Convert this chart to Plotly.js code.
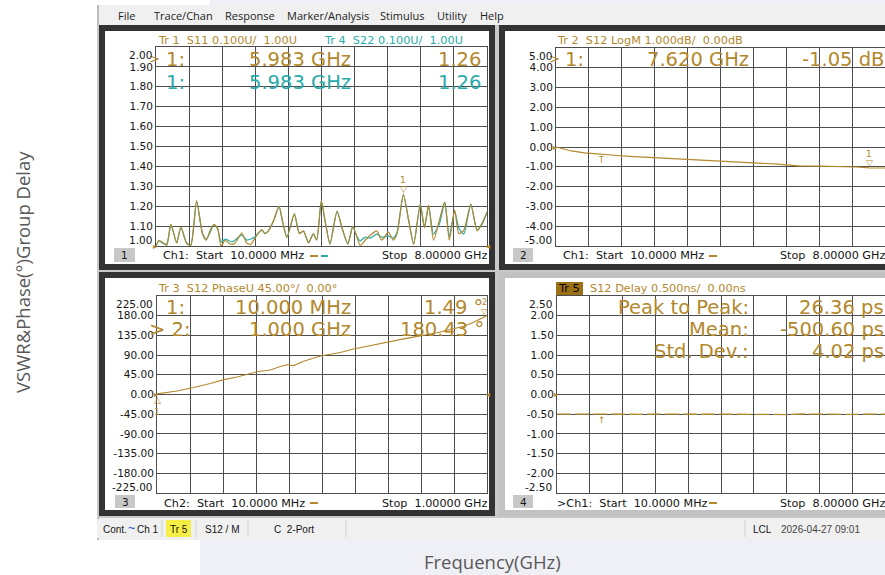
<!DOCTYPE html>
<html><head><meta charset="utf-8">
<script src="https://cdn.plot.ly/plotly-3.0.1.min.js"></script>
<style>html,body{margin:0;padding:0;background:#fff;overflow:hidden}#chart{width:885px;height:575px}</style>
</head><body><div id="chart"></div>
<script>
// ---------------- DATA ----------------
// Trace 1 / Trace 4 : VSWR, Ch1 10 MHz .. 8 GHz
const vswrFreq = [0.01,0.08,0.19,0.27,0.37,0.51,0.61,0.75,0.85,0.99,1.13,1.22,1.32,1.41,1.50,1.58,1.68,1.76,1.84,1.92,2.08,2.20,2.30,2.39,2.56,2.64,2.72,2.85,2.98,3.06,3.17,3.35,3.47,3.57,3.69,3.81,3.89,4.00,4.09,4.21,4.38,4.50,4.64,4.76,4.86,4.94,5.06,5.18,5.34,5.46,5.62,5.74,5.83,5.98,6.11,6.23,6.39,6.49,6.59,6.71,6.85,6.98,7.09,7.22,7.32,7.44,7.61,7.76,7.88,8.00];
const s11Vswr = [1.000,1.029,1.015,1.003,1.109,1.015,1.096,1.012,1.003,1.228,1.062,1.029,1.079,1.109,1.087,1.000,1.029,1.015,1.008,1.015,1.065,1.015,1.008,1.037,1.082,1.062,1.076,1.129,1.200,1.129,1.042,1.163,1.062,1.076,1.015,1.062,1.029,1.227,1.129,1.008,1.176,1.092,1.008,1.099,1.045,1.003,1.029,1.054,1.076,1.029,1.070,1.029,1.062,1.260,1.129,1.008,1.211,1.092,1.205,1.029,1.129,1.222,1.029,1.180,1.062,1.079,1.211,1.076,1.114,1.171];
const s22Vswr = [1.000,1.025,1.012,1.010,1.105,1.018,1.094,1.015,1.005,1.225,1.065,1.032,1.070,1.108,1.085,1.020,1.035,1.028,1.020,1.030,1.055,1.030,1.035,1.045,1.080,1.064,1.075,1.127,1.198,1.127,1.045,1.160,1.065,1.074,1.018,1.060,1.032,1.224,1.127,1.012,1.174,1.090,1.012,1.097,1.048,1.025,1.045,1.040,1.060,1.045,1.050,1.040,1.070,1.258,1.127,1.012,1.209,1.095,1.200,1.060,1.110,1.218,1.050,1.176,1.090,1.060,1.208,1.080,1.110,1.168];
// Trace 2 : S12 LogM (dB)
const logmFreq = [0.01,0.2,0.38,0.7,1.1,1.5,1.8,2.4,3.0,3.6,4.2,4.8,5.4,5.9,6.4,6.9,7.3,7.62,8.0];
const s12LogM = [0.00,-0.12,-0.20,-0.30,-0.38,-0.43,-0.47,-0.54,-0.62,-0.67,-0.75,-0.80,-0.86,-0.95,-0.97,-0.98,-1.01,-1.05,-1.06];
// Trace 3 : S12 unwrapped phase (deg), Ch2 10 MHz .. 1 GHz
const phaseFreq = [0.01,0.07,0.12,0.17,0.21,0.25,0.31,0.35,0.38,0.40,0.42,0.45,0.50,0.53,0.56,0.60,0.65,0.70,0.75,0.80,0.85,0.90,0.93,0.96,1.00];
const s12Phase = [1.49,8,16,25,34,40,52,56,64,68,66,76,88,92,96,104,112,120,127,134,141,150,156,165,180.43];
// Trace 5 : S12 group delay (ns)
const delayFreq = [0.01,0.4,0.8,1.2,1.6,2.0,2.4,2.8,3.2,3.6,4.0,4.4,4.8,5.2,5.6,6.0,6.4,6.8,7.2,7.6,8.0];
const s12Delay = [-0.497,-0.501,-0.499,-0.503,-0.498,-0.502,-0.500,-0.505,-0.496,-0.501,-0.499,-0.504,-0.497,-0.502,-0.509,-0.495,-0.503,-0.500,-0.506,-0.498,-0.501];
// markers
const vswrMkFreq = [5.983], vswrMkVal = [1.26];
const logmMkFreq = [7.62], logmMkVal = [-1.05];
const phaseMkFreq = [0.01, 1.0], phaseMkVal = [1.49, 180.43];
const refMkFreq = [1.1];
// tick labels
const vswrTicks = [1.0,1.1,1.2,1.3,1.4,1.5,1.6,1.7,1.8,1.9,2.0];
const vswrLabels = ['1.00','1.10','1.20','1.30','1.40','1.50','1.60','1.70','1.80','1.90','2.00'];
const logmTicks = [-5,-4,-3,-2,-1,0,1,2,3,4,5];
const logmLabels = ['-5.00','-4.00','-3.00','-2.00','-1.00','0.00','1.00','2.00','3.00','4.00','5.00'];
const phaseTicks = [-225,-180,-135,-90,-45,0,45,90,135,180,225];
const phaseLabels = ['-225.00','-180.00','-135.00','-90.00','-45.00','0.00','45.00','90.00','135.00','180.00','225.00'];
const delayTicks = [-2.5,-2,-1.5,-1,-0.5,0,0.5,1,1.5,2,2.5];
const delayLabels = ['-2.50','-2.00','-1.50','-1.00','-0.50','0.00','0.50','1.00','1.50','2.00','2.50'];
const menuItems = ['File','Trace/Chan','Response','Marker/Analysis','Stimulus','Utility','Help'];

// ---------------- STYLE / LAYOUT ----------------
const W = 885, H = 575;
const X = p => p / W, Y = p => 1 - p / H;
const S = s => String(s).replace(/ /g, '\u00a0');
const GOLD = '#b3882c', TEAL = '#27abab', GRID = '#4d4d4d', INK = '#151515';
const VNA = 'DejaVu Sans, Liberation Sans, Arial, sans-serif';
const UI = 'Open Sans, Noto Sans, sans-serif';
const NARROW = 'Liberation Sans, Arial, sans-serif';

const ann = [], shp = [];
function T(x, y, text, o = {}) {
  ann.push({xref:'paper', yref:'paper', x:X(x), y:Y(y), text:S(text), showarrow:false,
    xanchor:o.a || 'left', yanchor:'middle', borderpad:0, borderwidth:0, textangle:o.r || 0,
    font:{family:o.f || VNA, size:o.s || 10, color:o.c || INK}});
}
function R(x0, y0, x1, y1, fill, layer) {
  shp.push({type:'rect', xref:'paper', yref:'paper', x0:X(x0), x1:X(x1), y0:Y(y1), y1:Y(y0),
    fillcolor:fill, line:{width:0}, layer:layer || 'below'});
}
function L(x0, y0, x1, y1, color, w, layer) {
  shp.push({type:'line', xref:'paper', yref:'paper', x0:X(x0), x1:X(x1), y0:Y(y0), y1:Y(y1),
    line:{color:color, width:w || 1}, layer:layer || 'below'});
}
function D(xr, yr, x, y, text, o = {}) {
  ann.push({xref:xr, yref:yr, x:x, y:y, text:S(text), showarrow:false,
    xanchor:o.a || 'center', yanchor:o.ya || 'middle', xshift:o.xs || 0, yshift:o.ys || 0,
    borderpad:0, borderwidth:0, font:{family:o.f || VNA, size:o.s || 10, color:o.c || INK}});
}

// background / window chrome
R(200, 538, 885, 575, '#eef0f5');
R(210, 0, 885, 6, '#eef0f5');
R(97, 5, 885, 540, '#f0f0f0');
L(98, 5, 98, 540, '#9a9a9a', 1.2);
R(97, 25, 885, 518, '#c9c9c9');
// panel frames
R(99, 25, 495, 270, '#333333'); R(105, 31, 489, 264, '#ffffff');
R(499, 25, 885, 270, '#333333'); R(505, 31, 885, 264, '#ffffff');
R(99, 272, 495, 516, '#333333'); R(105, 278, 489, 510, '#ffffff');
R(499, 272, 885, 516, '#c2c2c2'); R(505, 278, 885, 510, '#ffffff');
// channel number boxes
R(114, 248, 135, 262, '#c8c8c8'); R(513, 248, 533, 262, '#c8c8c8');
R(115, 495, 135, 508, '#c8c8c8'); R(513, 495, 533, 508, '#c8c8c8');
// Tr 5 badge
R(556, 282, 583, 295, '#9c7014');
// trace legend dashes on the channel rows
L(310, 256, 318, 256, GOLD, 2, 'above'); L(321, 256, 328, 256, TEAL, 2, 'above');
L(709, 256, 717, 256, GOLD, 2, 'above');
L(310, 503, 318, 503, GOLD, 2, 'above');
L(709, 503, 717, 503, GOLD, 2, 'above');
// status bar
R(97, 519, 885, 538, '#f0f0f0');
R(166, 520, 191, 537, '#f6ee45');
[162, 196, 248, 346, 745].forEach(x => L(x, 520, x, 537, '#cfcfcf', 1));

// menu
const menuX = [118, 154, 225, 287, 380, 437, 480];
menuItems.forEach((m, i) => T(menuX[i], 15.5, m, {f:UI, s:11, c:'#1c1c1c'}));

// outer titles
T(22, 272, 'VSWR&Phase(°)Group Delay', {f:UI, s:18.5, c:'#595959', r:-90, a:'center'});
T(492, 561, 'Frequency(GHz)', {f:UI, s:18.5, c:'#595959', a:'center'});

const HS = 11.3, BS = 11.2, MS = 19.5;
// ---- Panel 1 texts
T(158, 40.5, 'Tr 1  S11 0.100U/  1.00U', {s:HS, c:GOLD});
T(324, 40.5, 'Tr 4  S22 0.100U/  1.00U', {s:HS, c:TEAL});
T(149, 59, '>', {s:13, c:GOLD});
T(166, 60, '1:', {s:MS, c:GOLD}); T(351, 60, '5.983 GHz', {s:MS, c:GOLD, a:'right'}); T(481, 60, '1.26', {s:MS, c:GOLD, a:'right'});
T(166, 82, '1:', {s:MS, c:TEAL}); T(351, 82, '5.983 GHz', {s:MS, c:TEAL, a:'right'}); T(481, 82, '1.26', {s:MS, c:TEAL, a:'right'});
T(124.5, 255, '1', {s:10.5, a:'center'});
T(163, 256, 'Ch1:  Start  10.0000 MHz', {s:BS});
T(487, 256, 'Stop  8.00000 GHz', {s:BS, a:'right'});
// ---- Panel 2 texts
T(557, 40.5, 'Tr 2  S12 LogM 1.000dB/  0.00dB', {s:HS, c:GOLD});
T(549, 59, '>', {s:13, c:GOLD});
T(565, 60, '1:', {s:MS, c:GOLD}); T(749, 60, '7.620 GHz', {s:MS, c:GOLD, a:'right'}); T(884, 60, '-1.05 dB', {s:MS, c:GOLD, a:'right'});
T(523, 255, '2', {s:10.5, a:'center'});
T(563, 256, 'Ch1:  Start  10.0000 MHz', {s:BS});
T(885, 256, 'Stop  8.00000 GHz', {s:BS, a:'right'});
// ---- Panel 3 texts
T(158, 288, 'Tr 3  S12 PhaseU 45.00°/  0.00°', {s:HS, c:GOLD});
T(166, 307, '1:', {s:MS, c:GOLD}); T(351, 307, '10.000 MHz', {s:MS, c:GOLD, a:'right'}); T(483, 307, '1.49 °', {s:MS, c:GOLD, a:'right'});
T(149, 329, '> 2:', {s:MS, c:GOLD}); T(351, 329, '1.000 GHz', {s:MS, c:GOLD, a:'right'}); T(484, 329, '180.43 °', {s:MS, c:GOLD, a:'right'});
T(125, 502, '3', {s:10.5, a:'center'});
T(164, 503, 'Ch2:  Start  10.0000 MHz', {s:BS});
T(487, 503, 'Stop  1.00000 GHz', {s:BS, a:'right'});
// ---- Panel 4 texts
T(558, 288.5, 'Tr 5', {s:HS, c:'#000'});
T(590, 288.5, 'S12 Delay 0.500ns/  0.00ns', {s:HS, c:GOLD});
T(749, 308, 'Peak to Peak:', {s:MS, c:GOLD, a:'right'}); T(884, 308, '26.36 ps', {s:MS, c:GOLD, a:'right'});
T(749, 329.5, 'Mean:', {s:MS, c:GOLD, a:'right'}); T(884, 329.5, '-500.60 ps', {s:MS, c:GOLD, a:'right'});
T(749, 351, 'Std. Dev.:', {s:MS, c:GOLD, a:'right'}); T(884, 351, '4.02 ps', {s:MS, c:GOLD, a:'right'});
T(523, 502, '4', {s:10.5, a:'center'});
T(557, 503, '>Ch1:  Start  10.0000 MHz', {s:BS});
T(885, 503, 'Stop  8.00000 GHz', {s:BS, a:'right'});
// ---- status bar
const SB = {f:NARROW, s:10};
T(103, 529, 'Cont.', SB); T(127.5, 527.5, '~', {f:NARROW, s:12.5, c:'#1d4fc9'});
T(137, 529, 'Ch 1', SB); T(170, 529, 'Tr 5', SB);
T(205, 529, 'S12 / M', SB); T(274, 529, 'C  2-Port', SB);
T(753, 529, 'LCL', SB); T(781, 529, '2026-04-27 09:01', {f:NARROW, s:10, c:'#444'});

// end tick labels (shifted inside the grid as on the instrument)
function endLabels(yr, ticks, labels, xRight) {
  D('paper', yr, X(xRight), ticks[0], labels[0], {a:'right', ys:6, s:10.5});
  D('paper', yr, X(xRight), ticks[ticks.length-1], labels[labels.length-1], {a:'right', ys:-8, s:10.5});
}
endLabels('y', vswrTicks, vswrLabels, 152);
endLabels('y2', logmTicks, logmLabels, 552);
endLabels('y3', phaseTicks, phaseLabels, 153);
endLabels('y4', delayTicks, delayLabels, 552);

// marker glyphs
D('x', 'y', vswrMkFreq[0], vswrMkVal[0], '▽', {ya:'bottom', s:9, c:GOLD, ys:0});
D('x', 'y', vswrMkFreq[0], vswrMkVal[0], '1', {ya:'bottom', s:9, c:GOLD, ys:9});
D('x2', 'y2', logmMkFreq[0], logmMkVal[0], '▽', {ya:'bottom', s:9, c:GOLD, ys:0});
D('x2', 'y2', logmMkFreq[0], logmMkVal[0], '1', {ya:'bottom', s:9, c:GOLD, ys:9});
D('x2', 'y2', refMkFreq[0], s12LogM[4], 'T', {ya:'top', s:8, c:GOLD, ys:-1});
D('x4', 'y4', refMkFreq[0], s12Delay[3], '↑', {ya:'top', s:9, c:GOLD, ys:-1});
D('x3', 'y3', phaseMkFreq[0], phaseMkVal[0], '△', {ya:'top', s:9, c:GOLD, ys:-1});
D('x3', 'y3', phaseMkFreq[0], phaseMkVal[0], '1', {ya:'top', s:9, c:GOLD, ys:-13});
D('x3', 'y3', phaseMkFreq[1], phaseMkVal[1], '▽', {ya:'bottom', s:8, c:GOLD, ys:0, xs:-3});
D('x3', 'y3', phaseMkFreq[1], phaseMkVal[1], '2', {ya:'bottom', s:8, c:GOLD, ys:9, xs:-3});
// reference-level arrows
D('x', 'y', vswrFreq[0], 1.0, '▸', {a:'right', s:8, c:GOLD, xs:1});
D('x2', 'y2', logmFreq[0], 0, '▸', {a:'right', s:8, c:GOLD, xs:1});
D('x3', 'y3', phaseFreq[0], 0, '▸', {a:'right', s:8, c:GOLD, xs:1});
D('x4', 'y4', delayFreq[0], 0, '▸', {a:'right', s:8, c:GOLD, xs:1});
D('x', 'y', 8.0, 1.0, '◂', {a:'left', s:8, c:GOLD, xs:-1});
D('x3', 'y3', 1.0, 0, '◂', {a:'left', s:8, c:GOLD, xs:-1});

function xa(px0, px1, range, anchor) {
  return {domain:[X(px0), Math.min(1, X(px1))], range:range, tick0:range[0], dtick:(range[1]-range[0])/10,
    showticklabels:false, ticks:'', showgrid:true, gridcolor:GRID, gridwidth:1, zeroline:false,
    showline:true, mirror:true, linecolor:GRID, linewidth:1, anchor:anchor, fixedrange:true};
}
function ya(py0, py1, ticks, labels, anchor) {
  return {domain:[Y(py1), Y(py0)], range:[ticks[0], ticks[ticks.length-1]], tickmode:'array',
    tickvals:ticks.slice(1, -1), ticktext:labels.slice(1, -1), ticks:'',
    tickfont:{family:VNA, size:10.5, color:INK}, showgrid:true, gridcolor:GRID, gridwidth:1, zeroline:false,
    showline:true, mirror:true, linecolor:GRID, linewidth:1, anchor:anchor, fixedrange:true};
}

const traces = [
  {x:vswrFreq, y:s22Vswr, xaxis:'x', yaxis:'y', mode:'lines', line:{color:TEAL, width:1.2, shape:'spline', smoothing:0.6}},
  {x:vswrFreq, y:s11Vswr, xaxis:'x', yaxis:'y', mode:'lines', line:{color:GOLD, width:1.2, shape:'spline', smoothing:0.6}},
  {x:logmFreq, y:s12LogM, xaxis:'x2', yaxis:'y2', mode:'lines', line:{color:GOLD, width:1.2}},
  {x:phaseFreq, y:s12Phase, xaxis:'x3', yaxis:'y3', mode:'lines', line:{color:GOLD, width:1.1}},
  {x:delayFreq, y:s12Delay, xaxis:'x4', yaxis:'y4', mode:'lines', line:{color:GOLD, width:1.3, dash:'14px,4px'}}
];

const layout = {
  width:W, height:H, margin:{l:0, r:0, t:0, b:0}, paper_bgcolor:'#ffffff', plot_bgcolor:'#ffffff',
  showlegend:false, hovermode:false,
  xaxis: xa(156, 487, [0.01, 8], 'y'),
  yaxis: ya(47, 246, vswrTicks, vswrLabels, 'x'),
  xaxis2: xa(556, 885, [0.01, 8], 'y2'),
  yaxis2: ya(48, 246, logmTicks, logmLabels, 'x2'),
  xaxis3: xa(157, 487, [0.01, 1.0], 'y3'),
  yaxis3: ya(296, 493, phaseTicks, phaseLabels, 'x3'),
  xaxis4: xa(557, 885, [0.01, 8], 'y4'),
  yaxis4: ya(296, 493, delayTicks, delayLabels, 'x4'),
  shapes: shp, annotations: ann
};
Plotly.newPlot('chart', traces, layout, {staticPlot:true, displayModeBar:false});
</script></body></html>
